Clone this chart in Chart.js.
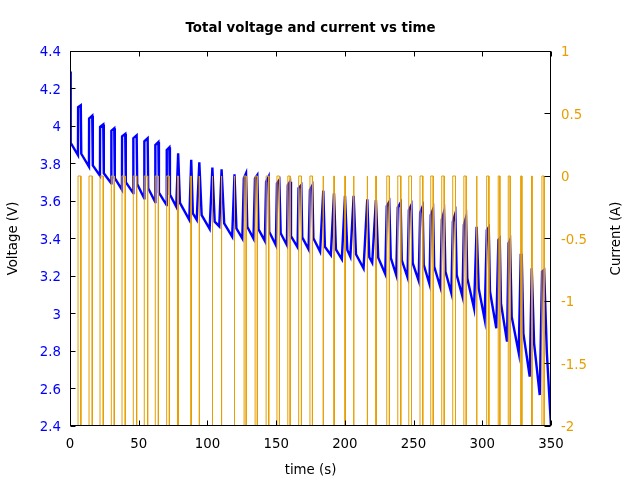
<!DOCTYPE html>
<html><head><meta charset="utf-8">
<script src="https://cdn.jsdelivr.net/npm/chart.js@4.4.1/dist/chart.umd.min.js"></script>
<style>html,body{margin:0;padding:0;background:#fff}canvas{display:block}</style>
</head><body>
<canvas id="c" width="640" height="480"></canvas>
<script>
// ---- data ----
const voltTime = [0,0.5,5.8,5.9,7.85,8.2,13.8,13.9,16.2,16.6,21.8,21.9,24.2,24.6,30.0,30.1,32.2,32.6,37.8,37.9,40.2,40.6,46.0,46.1,48.5,48.9,54.0,54.1,56.5,56.9,62.0,62.1,64.3,64.7,70.3,70.4,72.3,72.7,77.3,78.7,80.0,86.8,88.2,89.4,92.2,94.1,95.8,101.6,103.6,105.3,108.6,110.3,112.2,118.0,119.7,121.1,125.4,126.5,128.1,129.0,133.5,134.6,136.3,137.2,141.8,142.7,144.5,144.95,149.8,150.6,152.3,153.3,157.8,158.5,160.1,160.8,165.6,166.3,168.3,169.0,173.6,174.6,176.3,177.1,182.0,184.3,185.5,189.8,192.1,193.5,197.8,200.1,201.8,204.0,206.4,208.1,213.6,216.3,217.8,219.9,222.6,224.3,229.4,230.5,232.3,233.4,237.4,238.5,240.6,241.4,245.6,246.6,248.4,249.4,253.7,254.8,256.6,257.4,261.6,262.5,264.2,265.0,269.5,270.6,272.2,273.2,277.5,278.6,280.4,281.4,285.6,286.6,288.2,289.1,294.0,295.9,297.4,301.7,303.3,304.7,305.6,310.2,311.7,312.7,313.6,318.0,319.1,320.2,321.4,326.5,328.0,328.7,329.9,334.5,336.0,337.7,341.8,343.5,345.0,347.0,350];
const voltValue = [4.29,3.91,3.845,4.10,4.11,3.852,3.783,4.04,4.055,3.79,3.735,3.995,4.008,3.748,3.695,3.975,3.988,3.722,3.66,3.945,3.958,3.70,3.642,3.935,3.95,3.69,3.615,3.918,3.935,3.668,3.595,3.898,3.914,3.645,3.578,3.872,3.886,3.635,3.57,3.854,3.59,3.50,3.82,3.534,3.50,3.806,3.525,3.451,3.778,3.49,3.465,3.769,3.48,3.41,3.742,3.454,3.40,3.721,3.748,3.463,3.40,3.721,3.739,3.449,3.387,3.703,3.73,3.436,3.365,3.694,3.712,3.428,3.365,3.685,3.703,3.413,3.353,3.668,3.685,3.406,3.342,3.659,3.682,3.401,3.33,3.655,3.356,3.312,3.641,3.342,3.289,3.628,3.339,3.303,3.628,3.316,3.241,3.609,3.30,3.271,3.605,3.297,3.211,3.573,3.596,3.297,3.205,3.566,3.591,3.285,3.193,3.552,3.579,3.268,3.175,3.538,3.57,3.259,3.156,3.525,3.556,3.25,3.14,3.502,3.543,3.223,3.108,3.49,3.534,3.205,3.09,3.472,3.513,3.188,3.028,3.463,3.134,2.969,3.445,3.46,3.117,2.921,3.392,3.401,3.054,2.85,3.374,3.392,2.983,2.791,3.312,3.312,2.894,2.663,3.241,2.841,2.565,3.223,3.232,2.788,2.40];
// rest periods (current back to 0 A)
const restStart = [5.85,13.85,21.85,30.05,37.85,46.05,54.05,62.05,70.35,78.2,87.9,93.9,103.5,110.1,119.5,126.7,134.7,142.7,150.6,158.5,166.4,174.6,184.1,192.0,200.0,206.3,216.2,222.5,230.5,238.5,246.5,254.7,262.5,270.5,278.5,286.6,295.8,303.2,311.6,318.9,327.9,335.9,343.4];
const restEnd   = [7.9,16.2,24.2,32.2,40.2,48.5,56.5,64.3,72.3,78.8,88.3,94.2,103.8,110.4,119.8,128.2,136.3,144.6,152.4,160.2,168.4,176.4,184.4,192.3,200.3,206.6,216.5,222.8,232.4,240.7,248.5,256.7,264.3,272.3,280.5,288.3,296.1,304.8,312.8,320.3,328.8,336.2,345.0];
const currentStartValue = 1;
const dischargeCurrent = -2;
const restCurrent = 0;
const endTime = 350;

// ---- build series ----
const voltage = voltTime.map((t, i) => ({x: t, y: voltValue[i]}));
const current = [{x: 0, y: currentStartValue}, {x: 0, y: dischargeCurrent}];
restStart.forEach((s, i) => {
  current.push({x: s, y: dischargeCurrent}, {x: s, y: restCurrent},
               {x: restEnd[i], y: restCurrent}, {x: restEnd[i], y: dischargeCurrent});
});
current.push({x: endTime, y: dischargeCurrent});

const F = 'DejaVu Sans';
const FS = 13.33;
const ORANGE = '#e69f00';
const fmt = v => String(Number(Number(v).toFixed(2)));

const frame = {
  id: 'frame',
  afterDatasetsDraw(chart) {
    const {ctx, chartArea: a, scales} = chart;
    const L = Math.round(a.left) + 0.5, R = Math.round(a.right) - 0.5;
    const T = Math.round(a.top) + 0.5, B = Math.round(a.bottom) - 0.5;
    ctx.save();
    ctx.strokeStyle = '#000';
    ctx.lineWidth = 1;
    ctx.beginPath();
    const tl = 5;
    scales.x.ticks.forEach(t => {
      const p = Math.round(scales.x.getPixelForValue(t.value)) + 0.5;
      ctx.moveTo(p, B); ctx.lineTo(p, B - tl);
      ctx.moveTo(p, T); ctx.lineTo(p, T + tl);
    });
    scales.y.ticks.forEach(t => {
      const p = Math.round(scales.y.getPixelForValue(t.value)) + 0.5;
      ctx.moveTo(L, p); ctx.lineTo(L + tl, p);
    });
    scales.y2.ticks.forEach(t => {
      const p = Math.round(scales.y2.getPixelForValue(t.value)) + 0.5;
      ctx.moveTo(R, p); ctx.lineTo(R - tl - 1, p);
    });
    ctx.stroke();
    ctx.strokeRect(L, T, R - L, B - T);
    // right axis title (reads bottom-to-top like gnuplot)
    ctx.fillStyle = '#000';
    ctx.font = FS + 'px "' + F + '"';
    ctx.textAlign = 'center';
    ctx.textBaseline = 'middle';
    ctx.translate(617, (a.top + a.bottom) / 2);
    ctx.rotate(-Math.PI / 2);
    ctx.fillText('Current (A)', 0, 0);
    ctx.restore();
  }
};

new Chart(document.getElementById('c'), {
  type: 'line',
  data: {
    datasets: [
      {label: 'Current', data: current, yAxisID: 'y2', borderColor: ORANGE, borderWidth: 1,
       pointRadius: 0, tension: 0, fill: false, order: 0},
      {label: 'Voltage', data: voltage, yAxisID: 'y', borderColor: '#0000ff', borderWidth: 2.4,
       pointRadius: 0, tension: 0, fill: false, order: 1}
    ]
  },
  options: {
    responsive: false,
    animation: false,
    devicePixelRatio: 1,
    layout: {padding: 0},
    plugins: {
      legend: {display: false},
      tooltip: {enabled: false},
      title: {display: true, text: 'Total voltage and current vs time', color: '#000',
              font: {family: F, size: FS, weight: 'bold'}, padding: {top: 21, bottom: 14}, fullSize: false}
    },
    scales: {
      x: {type: 'linear', position: 'bottom', min: 0, max: 350,
          ticks: {stepSize: 50, color: '#000', font: {family: F, size: FS}, padding: 11, maxRotation: 0, autoSkip: false},
          grid: {display: false, drawTicks: false}, border: {display: false},
          title: {display: true, text: 'time (s)', color: '#000', font: {family: F, size: FS}, padding: {top: 0, bottom: 1}},
          afterFit(s) { s.height = 54; }},
      y: {type: 'linear', position: 'left', min: 2.4, max: 4.4,
          ticks: {stepSize: 0.2, color: '#0000ff', font: {family: F, size: FS}, padding: 9, labelOffset: 2, callback: fmt},
          grid: {display: false, drawTicks: false}, border: {display: false},
          title: {display: true, text: 'Voltage (V)', color: '#000', font: {family: F, size: FS}, padding: {top: 6, bottom: 0}},
          afterFit(s) { s.width = 70; }},
      y2: {type: 'linear', position: 'right', min: -2, max: 1,
          ticks: {stepSize: 0.5, color: ORANGE, font: {family: F, size: FS}, padding: 10, labelOffset: 2, callback: fmt},
          grid: {display: false, drawTicks: false}, border: {display: false},
          afterFit(s) { s.width = 89; }}
    }
  },
  plugins: [frame]
});
</script>
</body></html>
